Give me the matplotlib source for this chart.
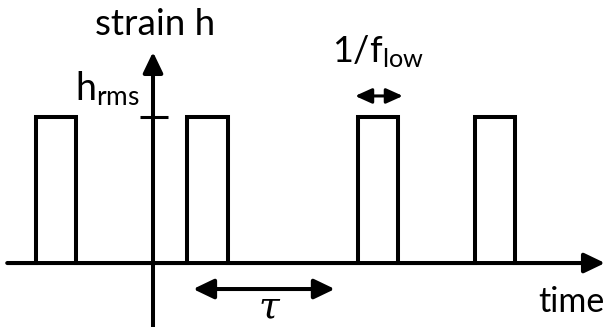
import matplotlib
matplotlib.use("Agg")
import matplotlib.pyplot as plt

plt.rcParams['font.family'] = ['Lato', 'DejaVu Sans']
plt.rcParams['mathtext.fontset'] = 'custom'
plt.rcParams['mathtext.rm'] = 'Lato'
plt.rcParams['mathtext.it'] = 'DejaVu Serif:italic'

# pulse train (time in units of 1/f_low, strain in units of h_rms)
pulse_starts = [-2.9, 0.84, 5.06, 7.95]
pulse_width = 1.0
h_rms = 1.0

# annotation spans
flow_span = [4.99, 6.17]
tau_span = [0.99, 4.49]

# build the square-wave outline
t = [-3.6]
h = [0]
for s in pulse_starts:
    t += [s, s, s + pulse_width, s + pulse_width]
    h += [0, h_rms, h_rms, 0]
t.append(11.0)
h.append(0)

fig = plt.figure(figsize=(6.08, 3.27), dpi=100)
ax = fig.add_axes([0, 0, 1, 1])
ax.set_xlim(-3.778, 11.235)
ax.set_ylim(-0.438, 1.801)
ax.axis('off')

lw = 2.9
ax.plot(t, h, color='black', lw=lw, solid_joinstyle='miter', solid_capstyle='butt')

head = '-|>,head_length=1.25,head_width=0.6'
# time axis
ax.annotate('', xy=(11.16, 0), xytext=(-3.6, 0),
            arrowprops=dict(arrowstyle=head, color='black', lw=lw, mutation_scale=10,
                            shrinkA=0, shrinkB=0))
# strain axis
ax.annotate('', xy=(0, 1.445), xytext=(0, -0.45),
            arrowprops=dict(arrowstyle=head, color='black', lw=lw, mutation_scale=10,
                            shrinkA=0, shrinkB=0))
# h_rms tick
ax.plot([-0.32, 0.37], [h_rms, h_rms], color='black', lw=2.2, solid_capstyle='butt')

# 1/f_low arrow
ax.annotate('', xy=(flow_span[1], 1.144), xytext=(flow_span[0], 1.144),
            arrowprops=dict(arrowstyle='<|-|>,head_length=1.0,head_width=0.45', color='black',
                            lw=2.2, mutation_scale=10, shrinkA=0, shrinkB=0))
# tau arrow
ax.annotate('', xy=(tau_span[1], -0.178), xytext=(tau_span[0], -0.178),
            arrowprops=dict(arrowstyle='<|-|>,head_length=1.25,head_width=0.6', color='black',
                            lw=lw, mutation_scale=10, shrinkA=0, shrinkB=0))

ax.text(0.04, 1.562, 'strain h', fontsize=26.5, ha='center', va='baseline')
ax.text(-0.32, 1.116, r'h$_{\mathrm{rms}}$', fontsize=27, ha='right', va='baseline')
ax.text(4.42, 1.37, r'1/f$_{\mathrm{low}}$', fontsize=26, ha='left', va='baseline')
ax.text(2.89, -0.428, r'$\tau$', fontsize=27, ha='center', va='bottom')
ax.text(9.52, -0.336, 'time', fontsize=24.5, ha='left', va='baseline')

fig.savefig('out.png', dpi=100)
